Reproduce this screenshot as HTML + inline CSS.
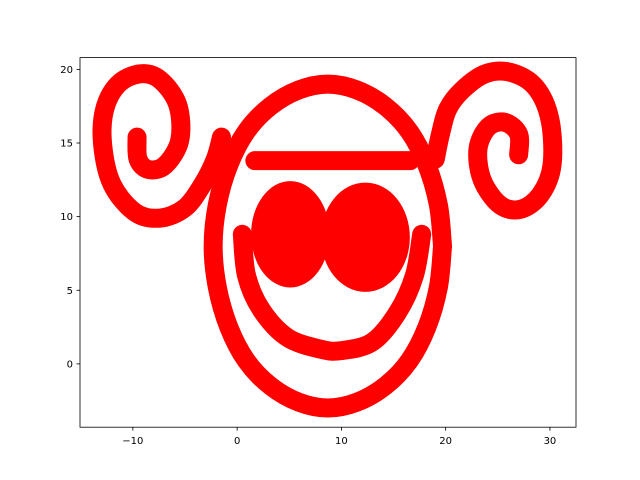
<!DOCTYPE html>
<html><head><meta charset="utf-8"><style>body{margin:0;background:#fff}svg{display:block}</style></head>
<body>
<svg id="chart" width="640" height="480" xmlns="http://www.w3.org/2000/svg"></svg>
<script>
const xTicks=[-10,0,10,20,30];
const yTicks=[0,5,10,15,20];
const faceOutline=[[19.7,8],[19.3,10.8],[18.2,13.5],[16.5,15.8],[14.2,17.5],[11.5,18.6],[8.7,19],[5.9,18.6],[3.2,17.5],[0.9,15.8],[-0.8,13.5],[-1.9,10.8],[-2.3,8],[-1.9,5.2],[-0.8,2.5],[0.9,0.2],[3.2,-1.5],[5.9,-2.6],[8.7,-3],[11.5,-2.6],[14.2,-1.5],[16.5,0.2],[18.2,2.5],[19.3,5.2],[19.7,8]];
const smile=[[0.5,8.8],[0.9,6],[2.3,3.7],[4.8,1.8],[8,1],[10,0.9],[13,1.5],[15.4,3.5],[17,6],[17.7,8.8]];
const brow=[[1.7,13.8],[16.6,13.8]];
const leftSpiral=[[-9.6,15.4],[-9.5,13.9],[-8.5,13.2],[-6.9,13.5],[-5.5,15.2],[-5.7,17.6],[-7.4,19.3],[-9.3,19.7],[-11.4,19],[-12.7,17.3],[-12.9,14.9],[-12,12.2],[-9.8,10.3],[-7.4,9.9],[-5,10.6],[-3.3,12.2],[-2.1,13.9],[-1.5,15.4]];
const rightSpiral=[[27,14.2],[27,15.6],[25.7,16.4],[24.1,16.1],[23.1,14.6],[23.5,12.5],[25.2,10.8],[27.2,10.5],[29.1,11.5],[30.2,13.5],[30,16.6],[28.6,18.8],[26.2,19.8],[23.8,19.7],[21.6,18.6],[20.2,17.3],[19.5,15.6],[19,13.9]];
const eyeX=[5.1,12.3];
const eyeY=[8.8,8.6];
const eyeRx=[2.9,3.4];
const eyeRy=[3.0,3.1];

const L=80,R=576,T=57.6,B=427.2,xmin=-15.07,xmax=32.5,ymin=-4.3,ymax=20.8;
const sx=v=>L+(v-xmin)/(xmax-xmin)*(R-L);
const sy=v=>B-(v-ymin)/(ymax-ymin)*(B-T);
const svg=document.getElementById('chart');
const NS='http://www.w3.org/2000/svg';
function mk(t,a){const e=document.createElementNS(NS,t);for(const k in a)e.setAttribute(k,a[k]);svg.appendChild(e);return e;}
function smoothPath(pts){
  const P=pts.map(q=>[sx(q[0]),sy(q[1])]);
  let d='M'+P[0][0]+','+P[0][1];
  for(let i=0;i<P.length-1;i++){
    const p0=P[Math.max(0,i-1)],p1=P[i],p2=P[i+1],p3=P[Math.min(P.length-1,i+2)];
    const c1=[p1[0]+(p2[0]-p0[0])/6,p1[1]+(p2[1]-p0[1])/6];
    const c2=[p2[0]-(p3[0]-p1[0])/6,p2[1]-(p3[1]-p1[1])/6];
    d+=' C'+c1[0]+','+c1[1]+' '+c2[0]+','+c2[1]+' '+p2[0]+','+p2[1];
  }
  return d;
}
function series(pts,name){
  const p=mk('path',{d:smoothPath(pts),fill:'none',stroke:'#ff0000','stroke-width':19,'stroke-linecap':'round','stroke-linejoin':'round'});
  
  
}
series(faceOutline,'face-outline');
series(smile,'smile');
series(brow,'brow');
series(leftSpiral,'left-spiral');
series(rightSpiral,'right-spiral');
for(let i=0;i<eyeX.length;i++){
  const e=mk('ellipse',{cx:sx(eyeX[i]),cy:sy(eyeY[i]),rx:(eyeRx[i])*(R-L)/(xmax-xmin)+9,ry:(eyeRy[i])*(B-T)/(ymax-ymin)+9,fill:'#ff0000'});
  
  
}
const fr=mk('rect',{x:L,y:T,width:R-L,height:B-T,fill:'none',stroke:'#000','stroke-width':0.8});


xTicks.forEach(v=>{
  const x=sx(v);
  const t=mk('line',{x1:x,x2:x,y1:B,y2:B+3.5,stroke:'#000','stroke-width':0.8});
  
  
  const l=mk('text',{x:x,y:B+17,'text-anchor':'middle','font-family':'DejaVu Sans, Liberation Sans, sans-serif','font-size':10});
  l.textContent=v<0?'\u2212'+(-v):v;
  
  
});
yTicks.forEach(v=>{
  const y=sy(v);
  const t=mk('line',{x1:L-3.5,x2:L,y1:y,y2:y,stroke:'#000','stroke-width':0.8});
  
  
  const l=mk('text',{x:L-7,y:y+3.5,'text-anchor':'end','font-family':'DejaVu Sans, Liberation Sans, sans-serif','font-size':10});
  l.textContent=v;
  
  
});
</script>
</body></html>
